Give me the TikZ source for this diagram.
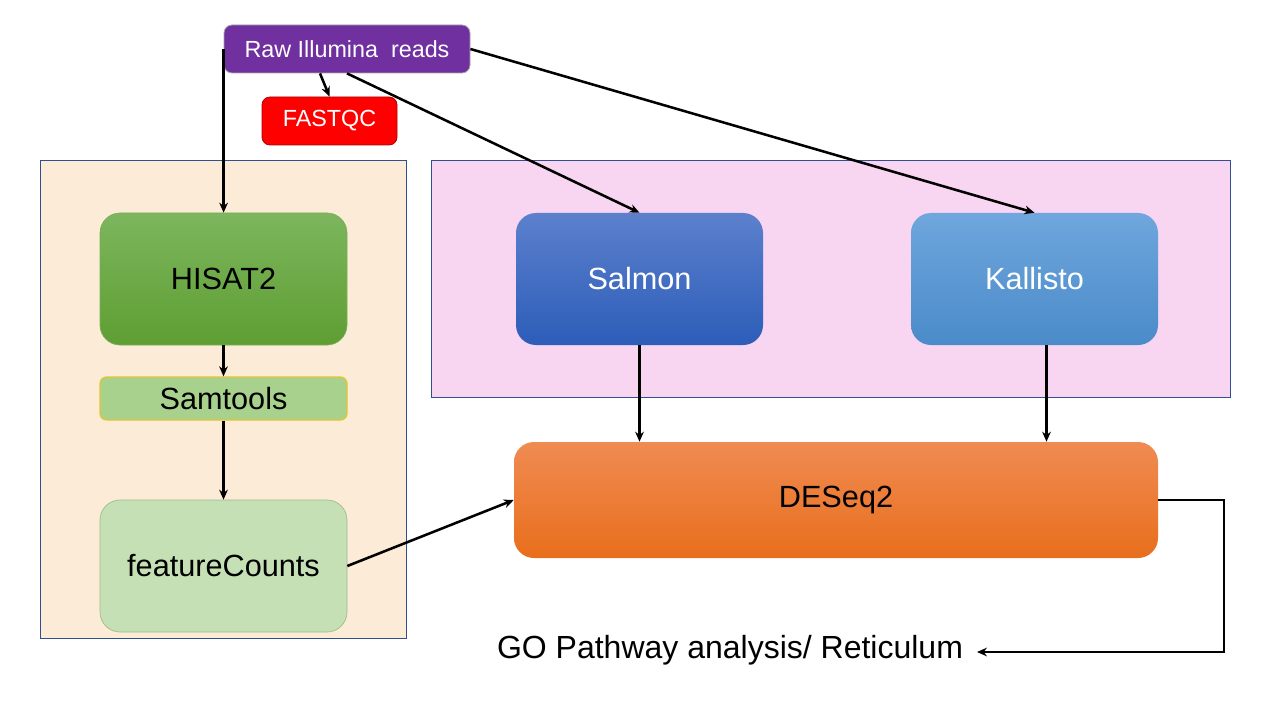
\documentclass[tikz,border=0pt]{standalone}
\usepackage{fontspec}
\setmainfont{Liberation Sans}
\usetikzlibrary{arrows.meta,calc}
\definecolor{rawc}{HTML}{7030A0}
\definecolor{fqc}{HTML}{FF0000}
\definecolor{panelA}{HTML}{FCEBD7}
\definecolor{panelB}{HTML}{F8D5F0}
\definecolor{panelEdge}{HTML}{2F4F8F}
\definecolor{samc}{HTML}{A9D18E}
\definecolor{fcc}{HTML}{C5E0B4}
\begin{document}
\begin{tikzpicture}[x=0.75pt,y=-0.75pt,
  arr/.style={line width=1.9pt,-{Stealth[length=7.5pt,width=6.5pt]}},
  panel/.style={draw=panelEdge,line width=0.6pt,minimum width=#1},
  box/.style={rounded corners=15pt,align=center,font=\fontsize{23}{27}\selectfont},
  small/.style={rounded corners=6pt,align=center,font=\fontsize{17.5}{21}\selectfont,text=white}
]
\useasboundingbox (0,0) rectangle (1280,720);
\fill[white] (0,0) rectangle (1280,720);
% panels
\node[panel=366*0.75pt,fill=panelA,minimum height=478*0.75pt] (lp) at (223,399) {};
\node[panel=799*0.75pt,fill=panelB,minimum height=237*0.75pt] (pp) at (830.5,278.5) {};
% top nodes
\node[small,fill=rawc,draw=gray!70,line width=0.6pt,minimum width=246*0.75pt,minimum height=48*0.75pt] (raw) at (347,49) {Raw Illumina\ \ reads};
\node[small,fill=fqc,draw=fqc!70!black,line width=0.6pt,minimum width=135*0.75pt,minimum height=48*0.75pt] (fastqc) at (329.5,121) {FASTQC};
% left column
\node[box,top color={rgb,255:red,125;green,182;blue,94},bottom color={rgb,255:red,94;green,158;blue,50},draw={rgb,255:red,120;green,175;blue,90},line width=0.5pt,minimum width=247*0.75pt,minimum height=132*0.75pt] (hisat) at (223.5,279) {HISAT2};
\node[rounded corners=5pt,fill=samc,draw={rgb,255:red,226;green,197;blue,51},line width=1pt,minimum width=247*0.75pt,minimum height=43*0.75pt,font=\fontsize{23}{27}\selectfont] (sam) at (223.5,398.5) {Samtools};
\node[box,fill=fcc,draw={rgb,255:red,160;green,185;blue,140},line width=0.5pt,minimum width=247*0.75pt,minimum height=132*0.75pt] (fc) at (223.5,566) {featureCounts};
% right side
\node[box,text=white,top color={rgb,255:red,92;green,128;blue,204},bottom color={rgb,255:red,44;green,93;blue,185},minimum width=247*0.75pt,minimum height=132*0.75pt] (salmon) at (639.5,279) {Salmon};
\node[box,text=white,top color={rgb,255:red,111;green,166;blue,221},bottom color={rgb,255:red,74;green,139;blue,201},minimum width=247*0.75pt,minimum height=132*0.75pt] (kallisto) at (1034.5,279) {Kallisto};
\node[box,top color={rgb,255:red,240;green,139;blue,82},bottom color={rgb,255:red,232;green,110;blue,28},minimum width=644*0.75pt,minimum height=116*0.75pt] (deseq) at (836,500) {DESeq2};
\node[inner sep=0pt,outer sep=14*0.75pt,font=\fontsize{24}{28}\selectfont] (go) at (730,650) {GO Pathway analysis/ Reticulum};
\coordinate (gc) at (1224,652);
% connectors
\draw[arr] (raw.west) -- (raw.west |- hisat.north);
\draw[arr] ($(raw.south)+(-27,0)$) -- (fastqc.north);
\draw[arr] (raw.south) -- (salmon.north);
\draw[arr] (raw.east) -- (kallisto.north);
\draw[arr] (hisat.south) -- (sam.north);
\draw[arr] (sam.south) -- (fc.north);
\draw[arr] (fc.east) -- (deseq.west);
\draw[arr] (salmon.south) -- (salmon.south |- deseq.north);
\draw[arr] ($(kallisto.south)+(12,0)$) -- ($(kallisto.south |- deseq.north)+(12,0)$);
\draw[arr] (deseq.east) -- (deseq.east -| gc) -- (gc) -- (gc -| go.east);
\end{tikzpicture}
\end{document}
